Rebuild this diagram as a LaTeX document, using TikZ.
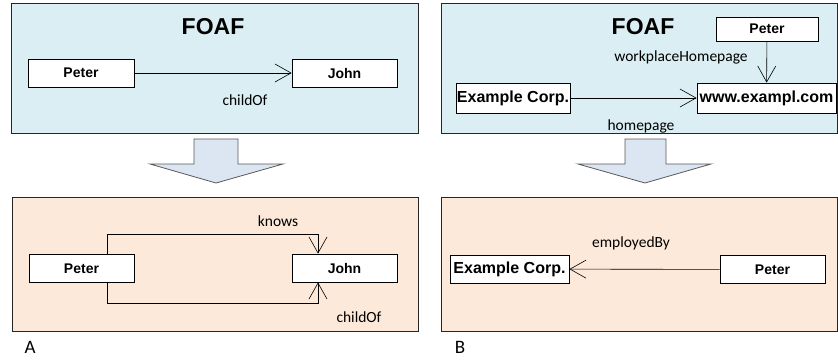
\documentclass[tikz,border=0pt]{standalone}
\usepackage{fontspec}
\setmainfont{Carlito}
\newfontfamily\boxfont{Liberation Sans}
\usetikzlibrary{arrows.meta, positioning}
\definecolor{foafblue}{RGB}{218,238,243}
\definecolor{mappeach}{RGB}{253,233,217}
\definecolor{arrowblue}{RGB}{220,230,242}
\tikzset{
    >={Straight Barb[length=16pt,width=18pt]}, % open V heads
    panel/.style={draw=black!85, line width=0.8pt},
    model/.style={panel, fill=foafblue},
    result/.style={panel, fill=mappeach},
    entity/.style={draw, fill=white, line width=0.8pt, inner sep=0pt, minimum height=28pt,
        font=\boxfont\bfseries\fontsize{14}{16}\selectfont},
    wide/.style={font=\boxfont\bfseries\fontsize{16}{18}\selectfont},
    title/.style={font=\boxfont\bfseries\fontsize{23}{26}\selectfont},
    rel/.style={font=\fontsize{15.5}{18}\selectfont, inner sep=0pt},
    tag/.style={font=\fontsize{19}{22}\selectfont},
    link/.style={->, line width=0.6pt},
    bigarrow/.style={draw=gray!70!black, fill=arrowblue, line width=0.8pt}
}

\begin{document}
\begin{tikzpicture}[x=1pt, y=-1pt]
    \useasboundingbox (0,0) rectangle (838,360);

    % panels
    \draw[model] (11,3) rectangle (418,133);
    \draw[result] (12,197) rectangle (418,331);
    \draw[model] (441,3) rectangle (837,133);
    \draw[result] (441,197) rectangle (837,331);

    % big arrows
    \draw[bigarrow] (194,139) -- (238,139) -- (238,164) -- (283,164) -- (216,183)
        -- (150,164) -- (194,164) -- cycle;
    \draw[bigarrow] (625,139) -- (666,139) -- (666,164) -- (711,164) -- (645,183)
        -- (578,164) -- (625,164) -- cycle;

    % A, source
    \node[title] (foafA) at (213,27) {FOAF};
    \node[entity, minimum width=106pt] (peterA) at (81,73) {Peter};
    \node[entity, minimum width=105pt] (johnA) at (344.5,73) {John};
    \draw[link] (peterA) -- (johnA);
    \node[rel] (childA) at (245,100) {childOf};

    % A, result
    \node[entity, minimum width=105pt] (peterR) at (81.5,268.5) {Peter};
    \node[entity, minimum width=105pt] (johnR) at (344.5,268) {John};
    \draw[link] ([xshift=25.5pt]peterR.north) -- ++(0,-20) -| ([xshift=-26.5pt]johnR.north);
    \draw[link] ([xshift=25.5pt]peterR.south) -- ++(0,20) -| ([xshift=-26.5pt]johnR.south);
    \node[rel] (knowsR) at (278,221) {knows};
    \node[rel] (childR) at (359,317) {childOf};
    \node[tag] (labA) at (30,347) {A};

    % B, source
    \node[title] (foafB) at (643,27) {FOAF};
    \node[entity, minimum width=102pt, minimum height=24pt] (peterT) at (767,29) {Peter};
    \node[entity, wide, minimum width=139pt, minimum height=30pt] (wwwT) at (766.5,98) {www.exampl.com};
    \node[entity, wide, minimum width=114pt, minimum height=30pt] (corpT) at (513,98) {Example Corp.};
    \draw[link] (peterT) -- (wwwT);
    \draw[link] (corpT) -- (wwwT);
    \node[rel] (workT) at (681,57) {workplaceHomepage};
    \node[rel] (homeT) at (641,126) {homepage};

    % B, result
    \node[entity, wide, minimum width=119pt] (corpE) at (509.5,269) {Example Corp.};
    \node[entity, minimum width=105pt] (peterE) at (772.5,269.5) {Peter};
    \draw[link] (peterE) -- (corpE);
    \node[rel] (empE) at (631,243) {employedBy};
    \node[tag] (labB) at (460,347) {B};
\end{tikzpicture}
\end{document}
